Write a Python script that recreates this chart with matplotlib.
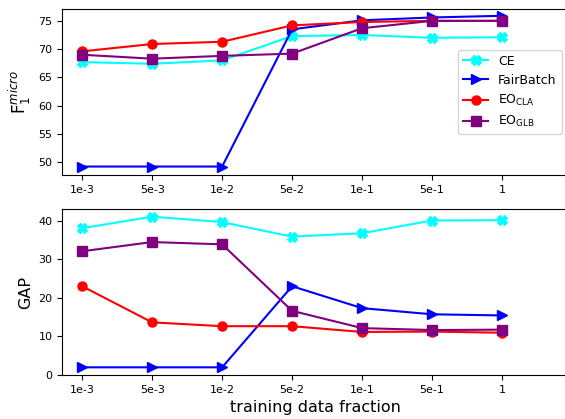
import numpy as np
import matplotlib
matplotlib.use('Agg')
import matplotlib.pyplot as plt

# training data fractions (categorical x)
fractions = ['1e-3', '5e-3', '1e-2', '5e-2', '1e-1', '5e-1', '1']

# F1 micro
f1_ce = [67.7, 67.4, 68.0, 72.3, 72.5, 72.0, 72.1]
f1_fairbatch = [49.2, 49.2, 49.2, 73.5, 75.1, 75.6, 75.9]
f1_eo_cla = [69.6, 70.9, 71.3, 74.2, 74.8, 75.0, 75.0]
f1_eo_glb = [69.0, 68.3, 68.8, 69.2, 73.7, 75.0, 75.0]

# GAP
gap_ce = [38.1, 41.1, 39.7, 35.9, 36.8, 40.1, 40.2]
gap_fairbatch = [1.9, 1.9, 1.9, 23.0, 17.3, 15.7, 15.4]
gap_eo_cla = [23.0, 13.6, 12.6, 12.6, 11.1, 11.2, 10.9]
gap_eo_glb = [32.1, 34.5, 33.9, 16.6, 12.1, 11.6, 11.7]

labels = ['CE', 'FairBatch', r'EO$_{\mathrm{CLA}}$', r'EO$_{\mathrm{GLB}}$']
colors = ['cyan', 'blue', 'red', 'purple']
markers = ['X', '>', 'o', 's']

x = np.arange(len(fractions))

fig = plt.figure(figsize=(5.65, 4.19), dpi=100)
# right spine falls just outside the canvas, like the cropped reference
ax1 = fig.add_axes([0.110, 0.5823, 0.895, 0.3962])
ax2 = fig.add_axes([0.110, 0.105, 0.895, 0.3962])

for ys, lab, c, m in zip([f1_ce, f1_fairbatch, f1_eo_cla, f1_eo_glb], labels, colors, markers):
    ax1.plot(x, ys, color=c, marker=m, label=lab, linewidth=1.5, markersize=6.5)
for ys, lab, c, m in zip([gap_ce, gap_fairbatch, gap_eo_cla, gap_eo_glb], labels, colors, markers):
    ax2.plot(x, ys, color=c, marker=m, label=lab, linewidth=1.5, markersize=6.5)

for ax in (ax1, ax2):
    ax.set_xticks(x)
    ax.set_xticklabels(fractions)
    ax.set_xlim(-0.286, 6.94)
    ax.tick_params(labelsize=8)

ax1.set_ylim(47.7, 77.1)
ax1.set_yticks([50, 55, 60, 65, 70, 75])
ax2.set_ylim(-0.1, 43.1)
ax2.set_yticks([0, 10, 20, 30, 40])

ax1.set_ylabel(r'$\mathrm{F}_1^{micro}$', fontsize=12)
ax2.set_ylabel('GAP', fontsize=11.5)
ax2.set_xlabel('training data fraction', fontsize=11.5)

ax1.legend(loc='center right', fontsize=9)

fig.savefig('out.png', dpi=100)
